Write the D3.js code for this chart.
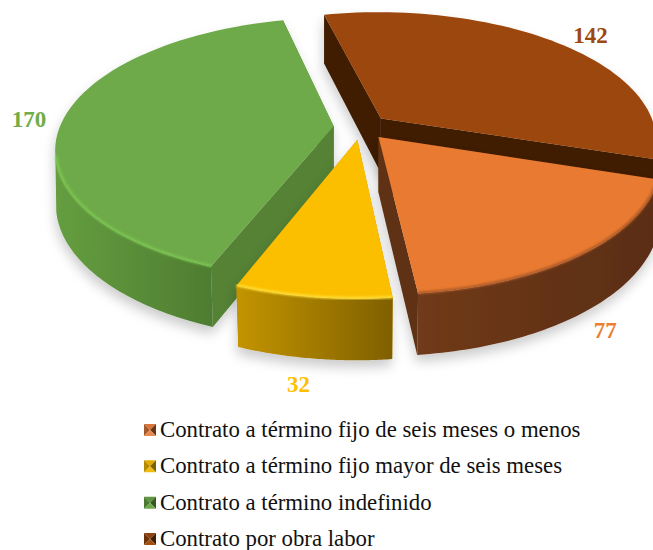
<!DOCTYPE html>
<html>
<head>
<meta charset="utf-8">
<script src="https://cdn.jsdelivr.net/npm/d3@7"></script>
<style>
  body { margin: 0; background: #fff; }
  svg { display: block; }
  text { font-family: "Liberation Serif", serif; }
</style>
</head>
<body>
<svg id="chart"></svg>
<script>
// Chart data
const categories = [
    "Contrato a término fijo de seis meses o menos",
    "Contrato a término fijo mayor de seis meses",
    "Contrato a término indefinido",
    "Contrato por obra labor"
];
const values = [77, 32, 170, 142];

// Colours per slice
const topColors = ["#e97a30", "#fcbf00", "#6eaa48", "#9c460c"];
const cutColors = ["#5f3013", "#bf9000", "#548235", "#3f1d00"];
const wallFrom = ["#703a1a", "#c39400", "#659e40", "#3f1d00"];
const wallTo = ["#5a2d12", "#7f6000", "#4e7d31", "#3f1d00"];
const rimColors = ["#a9592a", "#ffdf3a", "#7cc653", "#9c460c"];
const labelColors = ["#ed7d31", "#ffc000", "#70ad47", "#9e480e"];
const swatchShades = [
    ["#d9743a", "#a5592a", "#6b3414", "#e58a4e"],
    ["#e0aa00", "#b58a00", "#7f6000", "#f0bc10"],
    ["#5f9640", "#4c7a32", "#35591f", "#6ea84a"],
    ["#8f4310", "#6e3209", "#421f04", "#a0500f"]
];

const width = 653;
const height = 550;

// 3D pie layout
const cx = 361;
const cy = 127;
const radiusX = 274;
const radiusY = 127;
const persp = 0.17;
const explode = 0.1;
const rotation = 108 * Math.PI / 180;

const svg = d3.select("#chart").attr("width", width).attr("height", height);
const defs = svg.append("defs");

defs.append("filter").attr("id", "shadow")
    .attr("x", "-20%").attr("y", "-20%").attr("width", "140%").attr("height", "140%")
    .append("feDropShadow")
    .attr("dx", -1).attr("dy", 7).attr("stdDeviation", 6)
    .attr("flood-color", "#000").attr("flood-opacity", 0.2);
defs.append("filter").attr("id", "soft").append("feGaussianBlur").attr("stdDeviation", 0.8);

const slices = d3.pie().sort(null).startAngle(rotation).endAngle(rotation + 2 * Math.PI)(values);

// Project a point on the disc to the screen, with simple perspective
function project(d, angle, r, drop) {
    const mid = (d.startAngle + d.endAngle) / 2;
    const X = r * Math.sin(angle) + explode * Math.sin(mid);
    const Z = r * Math.cos(angle) + explode * Math.cos(mid);
    const w = 1 + persp * Z;
    const x = cx + radiusX * X / w;
    const y = cy - radiusY * Z / w;
    if (!drop) return [x, y];
    const shrink = 1 - 0.014 * Math.max(0, -Z);
    return [cx + (x - cx) * shrink, y + 55 - 6 * Z];
}

function arcPoints(d, drop, r = 1) {
    return d3.range(0, 61).map(i => {
        const a = d.startAngle + (d.endAngle - d.startAngle) * i / 60;
        return project(d, a, r, drop);
    });
}

const line = d3.line();

// back to front
const drawOrder = [3, 2, 0, 1];

drawOrder.forEach(i => {
    const d = slices[i];
    const g = svg.append("g").attr("filter", "url(#shadow)");
    const topArc = arcPoints(d, false);
    const lowArc = arcPoints(d, true);
    const rimArc = arcPoints(d, false, 0.997);
    const apex = project(d, 0, 0, false);
    const apexLow = project(d, 0, 0, true);

    // only the part of the outer edge that faces the viewer gets a wall
    const front = d3.range(0, 61).filter(k => {
        return k < 60 ? topArc[k + 1][0] < topArc[k][0] : topArc[k][0] < topArc[k - 1][0];
    });
    const wallTop = front.map(k => topArc[k]);
    const wallLow = front.map(k => lowArc[k]);

    const xs = wallTop.map(p => p[0]);
    const grad = defs.append("linearGradient").attr("id", "wall" + i)
        .attr("gradientUnits", "userSpaceOnUse")
        .attr("x1", d3.min(xs)).attr("x2", d3.max(xs)).attr("y1", 0).attr("y2", 0);
    grad.append("stop").attr("offset", 0).attr("stop-color", wallFrom[i]);
    grad.append("stop").attr("offset", 1).attr("stop-color", wallTo[i]);

    // the two cut faces
    [0, 60].forEach(k => {
        g.append("path")
            .attr("d", line([apex, topArc[k], lowArc[k], apexLow]) + "Z")
            .attr("fill", cutColors[i]);
    });

    // outer wall
    g.append("path")
        .attr("d", line(wallTop.concat(wallLow.slice().reverse())) + "Z")
        .attr("fill", "url(#wall" + i + ")");

    // top face
    g.append("path")
        .attr("d", line([apex].concat(topArc)) + "Z")
        .attr("fill", topColors[i]);

    // bevel along the rim
    if (i !== 3) {
        g.append("path")
            .attr("d", line(front.map(k => rimArc[k])))
            .attr("fill", "none")
            .attr("stroke", rimColors[i])
            .attr("stroke-width", 2.5)
            .attr("filter", "url(#soft)");
    }
});

// Data labels
const labelOffsets = [[22, 77], [-14, 87], [-35, 2], [33, -7]];
slices.forEach((d, i) => {
    const mid = (d.startAngle + d.endAngle) / 2;
    const p = project(d, mid, 1, false);
    svg.append("text")
        .attr("x", p[0] + labelOffsets[i][0])
        .attr("y", p[1] + labelOffsets[i][1])
        .attr("text-anchor", "middle")
        .attr("dominant-baseline", "central")
        .attr("font-size", 23)
        .attr("font-weight", "bold")
        .attr("fill", labelColors[i])
        .text(values[i]);
});

// Legend
const legendY = d3.scalePoint().domain(categories).range([430, 539]);
const sw = 12;
const legend = svg.append("g").selectAll("g")
    .data(categories)
    .enter().append("g")
    .attr("transform", d => `translate(144,${legendY(d)})`);

legend.each(function(d, i) {
    const s = d3.select(this);
    const c = [0, 0];
    const tri = [
        [[-sw / 2, -sw / 2], [sw / 2, -sw / 2], c],
        [[-sw / 2, -sw / 2], [-sw / 2, sw / 2], c],
        [[sw / 2, -sw / 2], [sw / 2, sw / 2], c],
        [[-sw / 2, sw / 2], [sw / 2, sw / 2], c]
    ];
    tri.forEach((t, k) => {
        s.append("path")
            .attr("d", line(t) + "Z")
            .attr("transform", `translate(${sw / 2},0)`)
            .attr("fill", swatchShades[i][k]);
    });
});

legend.append("text")
    .attr("x", 16)
    .attr("y", 7)
    .attr("font-size", 22.8)
    .attr("fill", "#111")
    .text(d => d);
</script>
</body>
</html>
